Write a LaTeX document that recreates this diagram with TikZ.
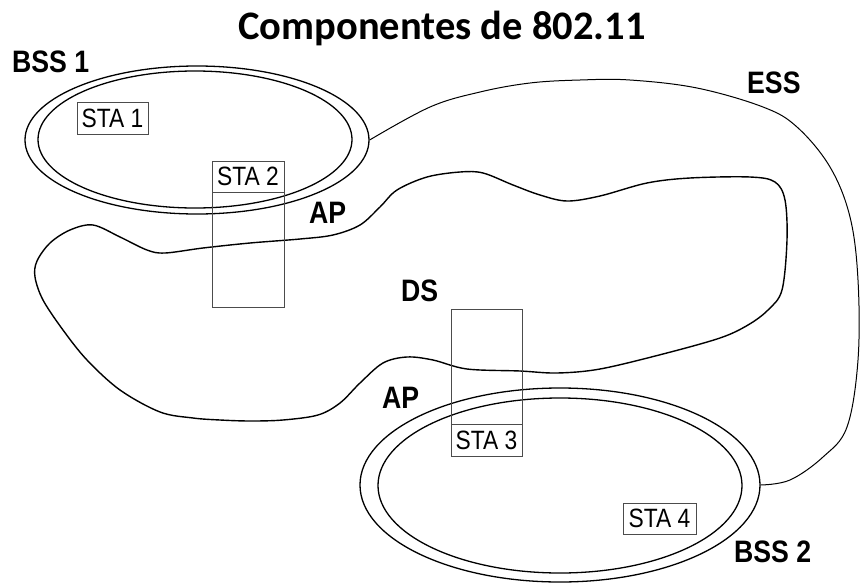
\documentclass[tikz,border=0pt]{standalone}
\usepackage{fontspec}
\usepackage{graphicx}
\usetikzlibrary{shapes.geometric}
\newfontfamily\titlefont{Carlito}
\newfontfamily\lblfont{Liberation Sans}
\newcommand{\mylbl}[1]{\scalebox{0.86}[1]{\lblfont\bfseries\fontsize{31}{31}\selectfont #1}}
\newcommand{\mysta}[1]{\scalebox{0.86}[1]{\lblfont\fontsize{26.5}{26.5}\selectfont #1}}
\begin{document}
\begin{tikzpicture}[x=1pt,y=-1pt,
  bssring/.style={draw=black,line width=1.3pt,ellipse,inner sep=0pt},
  stabox/.style={draw=black!70,line width=0.9pt,rectangle,inner sep=0pt},
  apbox/.style={draw=black!70,line width=0.9pt,rectangle,inner sep=0pt},
  biglbl/.style={inner sep=0pt,anchor=base west},
  wire/.style={draw=black,line width=1.0pt},
  blob/.style={draw=black,line width=1.4pt}]
\useasboundingbox (0,0) rectangle (860,584);
\fill[white] (0,0) rectangle (860,584);

% title
\node[inner sep=0pt,anchor=base,font=\titlefont\bfseries\fontsize{40.5}{40.5}\selectfont] (title) at (442,39) {Componentes de 802.11};

% DS blob
\draw[blob] plot[smooth cycle,tension=0.55] coordinates {
 (93,225) (120,237) (147,250) (165,253) (203,248) (250,243) (300,239) (333,235)
 (360,225) (380,207) (397,190) (427,177) (460,172) (483,173) (513,185) (540,195)
 (567,201) (600,196) (647,183) (690,178) (750,177) (775,182) (785,200) (787,240)
 (782,290) (768,310) (748,325) (720,338) (663,354) (600,369) (557,373) (520,371)
 (467,369) (433,360) (407,357) (383,363) (360,383) (340,403) (318,415) (283,420)
 (250,421) (220,420) (193,418) (160,412) (120,390) (87,360) (63,330) (43,300)
 (35,277) (37,261) (50,243) (70,230)};

% BSS 1
\node[bssring,minimum width=344pt,minimum height=148pt] (bss1) at (197,140) {};
\node[bssring,minimum width=314pt,minimum height=137pt] (bss1in) at (195,139.5) {};
% BSS 2
\node[bssring,minimum width=400pt,minimum height=194pt] (bss2) at (560,485) {};
\node[bssring,minimum width=364pt,minimum height=175pt] (bss2in) at (560,485.5) {};

% ESS connector
\draw[wire] plot[smooth,tension=0.6] coordinates {
 (bss1.east) (430,107) (480,92) (530,83) (580,80) (630,80) (697,88) (763,107)
 (797,127) (830,167) (850,217) (858,280) (858,360) (847,427) (823,457) (790,480)
 (bss2.east)};

% stations
\node[stabox,minimum width=71pt,minimum height=32pt] (sta1) at (112.5,118) {\mysta{STA 1}};
\node[stabox,minimum width=72pt,minimum height=31pt] (sta2) at (248,176.5) {\mysta{STA 2}};
\node[apbox,minimum width=72pt,minimum height=115pt] (ap1) at (248,249.5) {};
\node[apbox,minimum width=71pt,minimum height=115pt] (ap2) at (486.5,366.5) {};
\node[stabox,minimum width=71pt,minimum height=32pt] (sta3) at (486.5,440) {\mysta{STA 3}};
\node[stabox,minimum width=73pt,minimum height=31pt] (sta4) at (659.5,518.5) {\mysta{STA 4}};

% labels
\node[biglbl] (lbss1) at (12,72) {\mylbl{BSS 1}};
\node[biglbl] (less) at (747,93) {\mylbl{ESS}};
\node[biglbl] (lbss2) at (734,562) {\mylbl{BSS 2}};
\node[biglbl] (lds) at (401,301) {\mylbl{DS}};
\node[biglbl] (lap1) at (309,223) {\mylbl{AP}};
\node[biglbl] (lap2) at (382,408) {\mylbl{AP}};
\end{tikzpicture}
\end{document}
